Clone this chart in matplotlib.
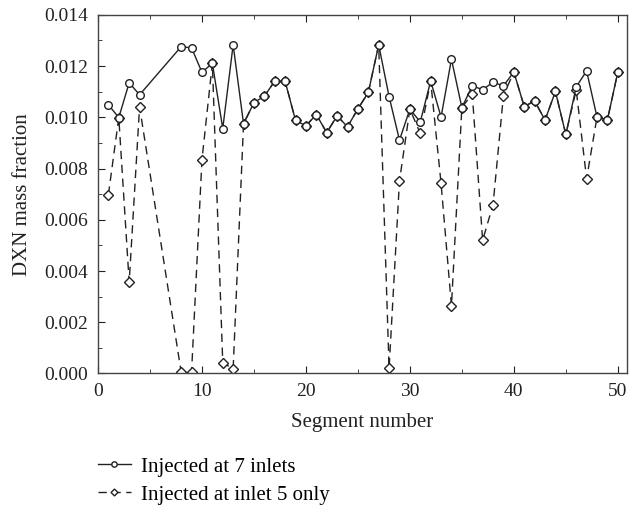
import matplotlib
matplotlib.use("Agg")
import matplotlib.pyplot as plt
from matplotlib.ticker import MultipleLocator, FormatStrFormatter

plt.rcParams['font.family'] = ['Liberation Serif', 'DejaVu Serif']

segments = [1, 2, 3, 4, 8, 9, 10, 11, 12, 13, 14, 15, 16, 17, 18, 19, 20, 21, 22, 23,
            24, 25, 26, 27, 28, 29, 30, 31, 32, 33, 34, 35, 36, 37, 38, 39, 40, 41, 42,
            43, 44, 45, 46, 47, 48, 49, 50]

inlets7 = [0.01049, 0.00999, 0.01135, 0.01088, 0.01276, 0.01271, 0.01176, 0.01211,
           0.00956, 0.01283, 0.00975, 0.01057, 0.01083, 0.01141, 0.01141, 0.00988,
           0.00967, 0.01011, 0.00940, 0.01006, 0.00963, 0.01033, 0.01097, 0.01283,
           0.01081, 0.00911, 0.01032, 0.00982, 0.01142, 0.01001, 0.01227, 0.01038,
           0.01123, 0.01108, 0.01137, 0.01123, 0.01177, 0.01042, 0.01064, 0.00989,
           0.01101, 0.00933, 0.01119, 0.01181, 0.01001, 0.00990, 0.01176]

inlet5 = [0.00698, 0.00999, 0.00356, 0.01041, 0.00005, 0.00005, 0.00834, 0.01211,
          0.00042, 0.00018, 0.00975, 0.01057, 0.01083, 0.01141, 0.01141, 0.00988,
          0.00967, 0.01011, 0.00940, 0.01006, 0.00963, 0.01033, 0.01097, 0.01283,
          0.00020, 0.00752, 0.01032, 0.00937, 0.01142, 0.00742, 0.00264, 0.01038,
          0.01092, 0.00520, 0.00659, 0.01085, 0.01177, 0.01042, 0.01064, 0.00989,
          0.01101, 0.00933, 0.01107, 0.00760, 0.01001, 0.00990, 0.01176]

labels = ["Injected at 7 inlets", "Injected at inlet 5 only"]

fig = plt.figure(figsize=(6.38, 5.13), dpi=100)
ax = fig.add_axes([0.1536, 0.272, 0.8294, 0.699])

l1, = ax.plot(segments, inlets7, '-', color='#222222', lw=1.0, marker='o', ms=5.5,
              mfc='white', mec='#222222', mew=1.0, label=labels[0], zorder=3)
l2, = ax.plot(segments, inlet5, '--', color='#222222', lw=1.0, marker='D', ms=5,
              mfc='white', mec='#222222', mew=1.0, dashes=(6, 4), label=labels[1], zorder=2)

ax.set_xlim(0, 50.9)
ax.set_ylim(0, 0.014)
ax.xaxis.set_major_locator(MultipleLocator(10))
ax.xaxis.set_minor_locator(MultipleLocator(5))
ax.yaxis.set_major_locator(MultipleLocator(0.002))
ax.yaxis.set_minor_locator(MultipleLocator(0.001))
ax.yaxis.set_major_formatter(FormatStrFormatter('%.3f'))
ax.tick_params(which='both', direction='in', top=True, right=False, labelsize=14, colors='#222222')
ax.tick_params(which='major', length=5)
ax.tick_params(which='minor', length=3)
ax.tick_params(axis='y', which='major', pad=7)
ax.tick_params(axis='x', which='major', pad=7)
for s in ax.spines.values():
    s.set_color('#444444')
    s.set_linewidth(1.0)

ax.set_xlabel("Segment number", fontsize=15, color='#222222', labelpad=9)
ax.set_ylabel("DXN mass fraction", fontsize=15, color='#222222', labelpad=9)

fig.legend(handles=[l1, l2], labels=labels, loc='upper left', bbox_to_anchor=(0.153, 0.109),
           frameon=False, fontsize=15, handlelength=1.6, handletextpad=0.5, labelspacing=0.4,
           markerscale=0.7, borderpad=0, borderaxespad=0, bbox_transform=fig.transFigure)

fig.savefig("out.png", dpi=100)
